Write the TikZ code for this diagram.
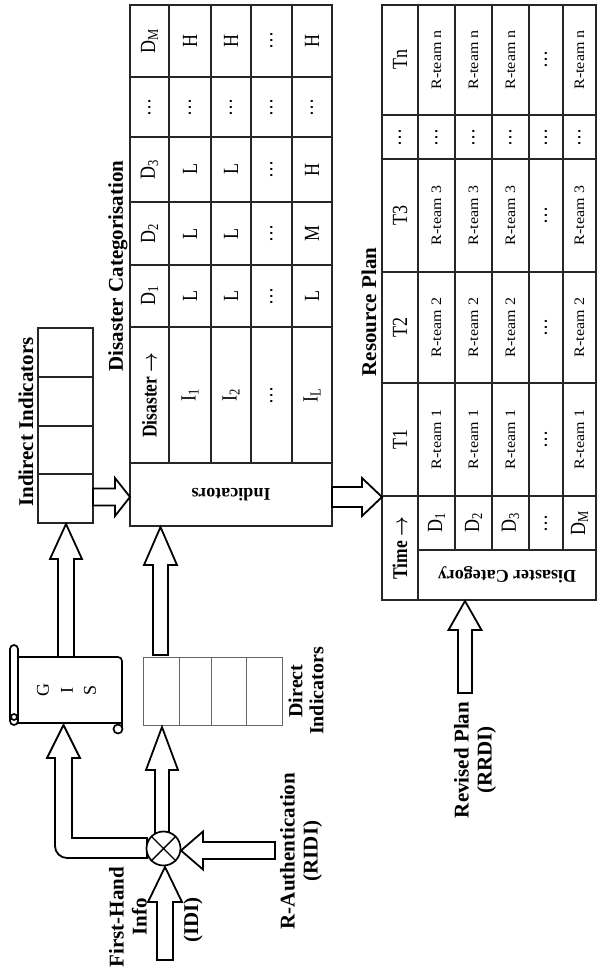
\documentclass[tikz,border=0pt]{standalone}
\usepackage{fontspec}
\setmainfont{Liberation Serif}
\usetikzlibrary{calc}
\newcommand\rarr{{\boldmath$\rightarrow$}}
\tikzset{
  lbl/.style={rotate=90, font=\bfseries\fontsize{21}{23}\selectfont, align=center, inner sep=0pt},
  cell/.style={rotate=90, yscale=1.2, font=\fontsize{18}{20}\selectfont, inner sep=0pt},
  team/.style={rotate=90, yscale=0.9, font=\fontsize{16}{18}\selectfont, inner sep=0pt},
  hd/.style={rotate=90, yscale=1.2, font=\bfseries\fontsize{17.5}{19}\selectfont, inner sep=0pt},
  flip/.style={rotate=180, font=\bfseries\fontsize{18}{20}\selectfont, inner sep=0pt},
  barrow/.style={draw=black, line width=1.8pt, fill=white, line join=miter},
  tl/.style={line width=1.2pt, draw=black!85},
  tbox/.style={draw=black!85, line width=1.2pt, inner sep=0pt, fill=white},
  sc/.style={line width=1.7pt, draw=black},
}
\newcommand\UpArr[6]{% x, tail y, tip y, shaft half, head half, head base y
  \draw[barrow] ({#1-#4},#2) -- ({#1-#4},#6) -- ({#1-#5},#6) -- (#1,#3) -- ({#1+#5},#6) -- ({#1+#4},#6) -- ({#1+#4},#2) -- cycle;}
\newcommand\SideArr[6]{% y, tail x, tip x, shaft half, head half, head base x
  \draw[barrow] (#2,{#1-#4}) -- (#6,{#1-#4}) -- (#6,{#1-#5}) -- (#3,#1) -- (#6,{#1+#5}) -- (#6,{#1+#4}) -- (#2,{#1+#4}) -- cycle;}
\begin{document}
\begin{tikzpicture}[x=1pt,y=-1pt]
\useasboundingbox (0,0) rectangle (597,974);

% ---------- Disaster categorisation table ----------
\node[tbox, minimum width=202pt, minimum height=521pt] (dtab) at (231,265.5) {};
\foreach \xx in {169,211,251,292} \draw[tl] (\xx,5) -- (\xx,463);
\foreach \yy in {77,137,202,265,327,463} \draw[tl] (130,\yy) -- (332,\yy);
\node[hd] (dh) at (149.5,395) {Disaster \rarr};
\foreach \yy/\t [count=\k] in {296/D\textsubscript{1}, 233.5/D\textsubscript{2}, 169.5/D\textsubscript{3}, 107/…, 41/D\textsubscript{M}}
  \node[cell] (dd\k) at (149.5,\yy) {\t};
\foreach \yy/\t [count=\k] in {395/I\textsubscript{1}, 296/L, 233.5/L, 169.5/L, 107/…, 41/H}
  \node[cell] (ia\k) at (190,\yy) {\t};
\foreach \yy/\t [count=\k] in {395/I\textsubscript{2}, 296/L, 233.5/L, 169.5/L, 107/…, 41/H}
  \node[cell] (ib\k) at (231,\yy) {\t};
\foreach \yy [count=\k] in {395,296,233.5,169.5,107,41}
  \node[cell] (ic\k) at (271.5,\yy) {…};
\foreach \yy/\t [count=\k] in {395/I\textsubscript{L}, 296/L, 233.5/M, 169.5/H, 107/…, 41/H}
  \node[cell] (id\k) at (312,\yy) {\t};
\node[flip] (indic) at (231,494.5) {Indicators};
\node[lbl] (dctitle) at (118,266) {Disaster Categorisation};

% ---------- Indirect indicators ----------
\node[tbox, minimum width=55pt, minimum height=195pt] (indir) at (65.5,425.5) {};
\foreach \yy in {377,426,474} \draw[tl] (38,\yy) -- (93,\yy);
\node[lbl] (indirlbl) at (26,422) {Indirect Indicators};

% ---------- Resource plan table ----------
\node[tbox, minimum width=214pt, minimum height=595pt] (rtab) at (489,302.5) {};
\draw[tl] (418,5) -- (418,600);
\foreach \xx in {455,492,529,563} \draw[tl] (\xx,5) -- (\xx,550);
\foreach \yy in {115,159,272,383,496} \draw[tl] (382,\yy) -- (596,\yy);
\draw[tl] (418,550) -- (596,550);
\node[hd] (time) at (400,548) {Time \rarr};
\foreach \yy/\t [count=\k] in {439.5/T1, 327.5/T2, 215.5/T3, 137/…, 60/Tn}
  \node[cell] (th\k) at (400,\yy) {\t};
\foreach \xx/\d [count=\r] in {436.5/D\textsubscript{1}, 473.5/D\textsubscript{2}, 510.5/D\textsubscript{3}, 579.5/D\textsubscript{M}} {
  \node[cell] (rd\r) at (\xx,523) {\d};
  \node[team] (rta\r) at (\xx,439.5) {R-team 1};
  \node[team] (rtb\r) at (\xx,327.5) {R-team 2};
  \node[team] (rtc\r) at (\xx,215.5) {R-team 3};
  \node[cell] (rtd\r) at (\xx,137) {…};
  \node[team] (rte\r) at (\xx,60) {R-team n};
}
\foreach \yy [count=\k] in {523,439.5,327.5,215.5,137,60}
  \node[cell] (rdots\k) at (546,\yy) {…};
\node[flip] (discat) at (507,575) {Disaster Category};
\node[lbl] (rptitle) at (369,312) {Resource Plan};

% ---------- GIS scroll ----------
\draw[sc, fill=white] (18,657) -- (118,657) to[out=0,in=90] (122,661) -- (122,729);
\draw[sc] (13,723) -- (122,723);
\draw[sc, fill=white] (118,729) circle[radius=4.5pt];
\draw[sc, fill=white, rounded corners=4pt] (10,645) rectangle (18,725);
\draw[sc] (14,717) circle[radius=3pt];
\node[rotate=90, font=\fontsize{18}{20}\selectfont, inner sep=0pt] (gisG) at (43,690) {G};
\node[rotate=90, font=\fontsize{18}{20}\selectfont, inner sep=0pt] (gisI) at (67,690) {I};
\node[rotate=90, font=\fontsize{18}{20}\selectfont, inner sep=0pt] (gisS) at (90,690) {S};

% ---------- Direct indicators ----------
\node[draw=black!60, line width=0.8pt, minimum width=139pt, minimum height=68pt, inner sep=0pt] (direct) at (212.5,691) {};
\foreach \xx in {179,211,246} \draw[black!60, line width=0.8pt] (\xx,657) -- (\xx,725);
\node[lbl, font=\bfseries\fontsize{20}{21}\selectfont] (directlbl) at (306,691) {Direct\\Indicators};

% ---------- block arrows ----------
\UpArr{66}{657}{524}{8}{16}{559}
\UpArr{160.5}{655}{527}{7.5}{16.5}{565}
\SideArr{497}{93}{130}{8.5}{19}{115}
\SideArr{497}{332}{382}{10}{19}{362}
\UpArr{465}{693}{601}{7}{16.5}{630}
\UpArr{162}{836}{727}{7}{16}{770}
\SideArr{850.5}{275}{181}{8.5}{19}{203}
\UpArr{165}{960}{867}{8}{17}{902}
\draw[barrow] (147,838) -- (72,838) -- (72,758) -- (80,758) -- (63.5,725) -- (47,758) -- (55,758) -- (55,846)
  .. controls (55,852.6) and (60.4,858) .. (67,858) -- (147,858) -- cycle;

% ---------- mixing node ----------
\node[draw, circle, line width=1.7pt, fill=white, minimum size=34pt, inner sep=0pt] (mix) at (163.5,848.5) {};
\draw[line width=1.4pt] (mix.north west) -- (mix.south east) (mix.north east) -- (mix.south west);

% ---------- labels ----------
\node[lbl] (fhlbl) at (128,917) {First-Hand\\Info};
\node[lbl] (idilbl) at (193,920) {(IDI)};
\node[lbl] (ralbl) at (301,851) {R-Authentication\\(RIDI)};
\node[lbl] (rplbl) at (475,760) {Revised Plan\\(RRDI)};
\end{tikzpicture}
\end{document}
